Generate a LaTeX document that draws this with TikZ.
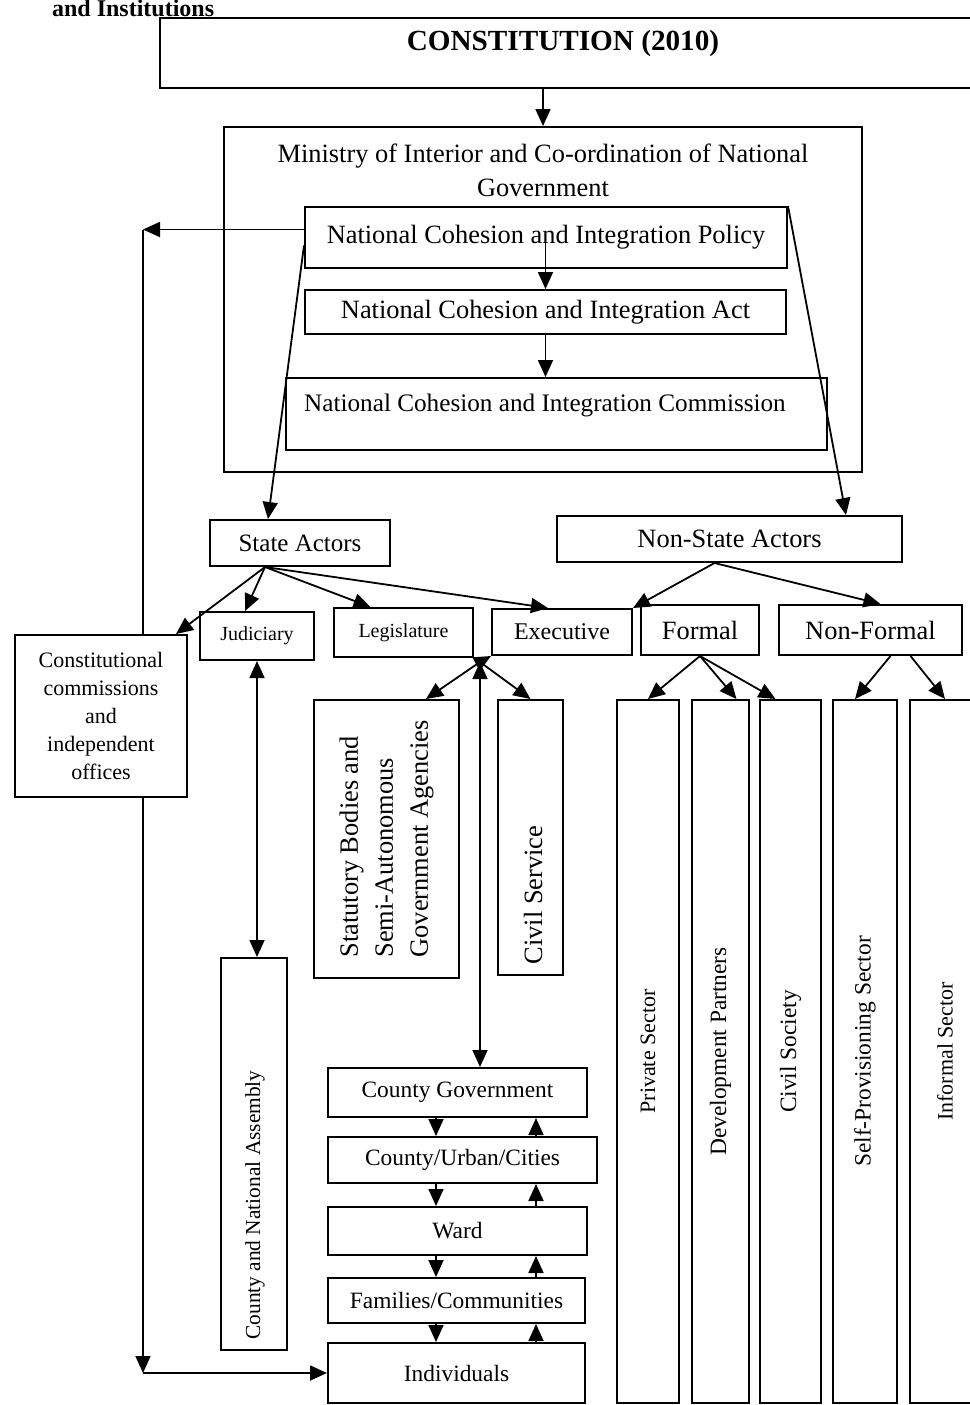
\documentclass[tikz,border=0pt]{standalone}
\usepackage{fontspec}
\setmainfont{Liberation Serif}
\usetikzlibrary{arrows.meta,calc,backgrounds}

\tikzset{
    box/.style={draw, line width=1pt, inner sep=0pt},
    arr/.style={-{Triangle[length=8.5pt,width=7.5pt]}, line width=0.9pt},
    darr/.style={{Triangle[length=8.5pt,width=7.5pt]}-{Triangle[length=8.5pt,width=7.5pt]}, line width=0.9pt},
    big/.style={font=\fontsize{13.2}{17}\selectfont},
    mid/.style={font=\fontsize{11.7}{14}\selectfont},
    small/.style={font=\fontsize{10}{12}\selectfont},
}

\begin{document}
\begin{tikzpicture}[x=0.5pt,y=-0.5pt]
            \useasboundingbox (0,0) rectangle (970,1405);

            \node[font=\bfseries\fontsize{12}{14}\selectfont, anchor=base west] (heading) at (45,16) {and Institutions};

            % top of the chart
            \node[box, minimum width=412.5pt, minimum height=35pt] (constitution) at (572.5,53) {};
            \node[font=\bfseries\fontsize{14.6}{17}\selectfont] (constitutiontext) at (563,43) {CONSTITUTION (2010)};

            \node[box, minimum width=319pt, minimum height=172.5pt] (ministry) at (543,299.5) {};
            \node[big, align=center] (ministrytext) at (543,170)
                {Ministry of Interior and Co-ordination of National\\Government};
            \node[box, big, minimum width=241pt, minimum height=30.5pt] (policy) at (546,237.5)
                {National Cohesion and Integration Policy};
            \node[box, big, minimum width=240.5pt, minimum height=22pt] (act) at (545.5,312)
                {National Cohesion and Integration Act};
            \node[box, minimum width=270.5pt, minimum height=36pt] (commission) at (556.5,414) {};
            \node[font=\fontsize{12.6}{15}\selectfont] (commissiontext) at (545,405) {National Cohesion and Integration Commission};

            % actors
            \node[box, font=\fontsize{12.5}{15}\selectfont, minimum width=90pt, minimum height=23pt] (state) at (300,543) {State Actors};
            \node[box, big, minimum width=172.5pt, minimum height=23pt] (nonstate) at (729.5,539) {Non-State Actors};

            \node[box, fill=white, align=center, font=\fontsize{11}{14}\selectfont,
                minimum width=86pt, minimum height=81pt] (commissions) at (101,716)
                {Constitutional\\commissions\\and\\independent\\offices};
            \node[box, small, minimum width=57pt, minimum height=24pt] (judiciary) at (257,636) {Judiciary};
            \node[box, small, minimum width=69.5pt, minimum height=24.5pt] (legislature) at (403.5,632.5) {Legislature};
            \node[box, font=\fontsize{12}{14}\selectfont, minimum width=70pt, minimum height=23pt] (executive) at (562,632) {Executive};
            \node[box, big, minimum width=59pt, minimum height=25pt] (formal) at (700,630) {Formal};
            \node[box, big, minimum width=91.5pt, minimum height=25pt] (nonformal) at (870.5,630) {Non-Formal};

            % executive side
            \node[box, rotate=90, align=left, minimum width=139pt, minimum height=72.5pt,
                font=\fontsize{13.2}{17.5}\selectfont] (statutory) at (386.5,839)
                {Statutory Bodies and\\Semi-Autonomous\\Government Agencies};
            \node[box, minimum width=32.5pt, minimum height=137.5pt] (civil) at (530.5,837.5) {};
            \node[big, rotate=90] (civiltext) at (533,895) {Civil Service};

            \node[box, minimum width=33pt, minimum height=196pt] (assembly) at (254,1154) {};
            \node[font=\fontsize{10.7}{13}\selectfont, rotate=90] (assemblytext) at (255,1205) {County and National Assembly};

            \node[box, mid, minimum width=129.5pt, minimum height=24.5pt] (countygov) at (457.5,1092.5) {County Government};
            \node[box, mid, minimum width=134.5pt, minimum height=23pt] (urban) at (462.5,1160) {County/Urban/Cities};
            \node[box, mid, minimum width=129.5pt, minimum height=24pt] (ward) at (457.5,1231) {Ward};
            \node[box, mid, minimum width=128.5pt, minimum height=22.5pt] (families) at (456.5,1300.5) {Families/Communities};
            \node[box, mid, minimum width=128.5pt, minimum height=30pt] (individuals) at (456.5,1373) {Individuals};

            % non-state side
            \node[box, font=\fontsize{11}{13}\selectfont, rotate=90, minimum width=351.5pt, minimum height=31pt] (private) at (648,1051.5) {Private Sector};
            \node[box, mid, rotate=90, minimum width=351.5pt, minimum height=28.5pt] (devpart) at (720.5,1051.5) {Development Partners};
            \node[box, mid, rotate=90, minimum width=351.5pt, minimum height=30.5pt] (civsoc) at (790.5,1051.5) {Civil Society};
            \node[box, mid, rotate=90, minimum width=351.5pt, minimum height=32pt] (selfprov) at (865,1051.5) {Self-Provisioning Sector};
            \node[box, font=\fontsize{11}{13}\selectfont, rotate=90, minimum width=351.5pt, minimum height=35pt] (informal) at (945,1051.5) {Informal Sector};

            % connectors
            \draw[arr] (constitution.south -| ministry.north) -- (ministry.north);
            \draw[arr] (policy.center -| act.north) -- (act.north);
            \draw[arr] (act.south) -- (act.south |- commission.north);

            \begin{scope}[on background layer]
                \coordinate (loopA) at (143,229.5);
                \coordinate (loopB) at (143,1373);
                \draw[arr] ($(policy.west)+(0,-8)$) -- (loopA);
                \draw[arr] (loopA) -- (loopB);
                \draw[arr] (loopB) -- (individuals.west);
            \end{scope}

            \draw[arr] ($(policy.west)+(0,8)$) -- ($(state.north)+(-32,0)$);
            \draw[arr] (policy.north east) -- ($(nonstate.north east)+(-57,0)$);

            \coordinate (stateroot) at ($(state.south)+(-35,0)$);
            \draw[arr] (stateroot) -- ($(commissions.north east)+(-12,0)$);
            \draw[arr] (stateroot) -- ($(judiciary.north)+(-12,0)$);
            \draw[arr] (stateroot) -- ($(legislature.north)+(-33,0)$);
            \draw[arr] (stateroot) -- ($(executive.north)+(-14,0)$);

            \coordinate (nonstateroot) at ($(nonstate.south)+(-15,0)$);
            \draw[arr] (nonstateroot) -- (executive.north east);
            \draw[arr] (nonstateroot) -- ($(nonformal.north)+(10,0)$);

            \coordinate (hub) at (480,662);
            \draw[arr] (hub) -- (executive.south west);
            \draw[arr] (hub) -- ($(statutory.south east)+(-34,0)$);
            \draw[arr] (hub) -- (civil.north);
            \draw[darr] (hub) -- (hub |- countygov.north);

            \draw[darr] (judiciary.south) -- (judiciary.south |- assembly.north);

            \draw[arr] (formal.south) -- (private.east);
            \draw[arr] (formal.south) -- ($(devpart.east)+(16,0)$);
            \draw[arr] (formal.south) -- ($(civsoc.east)+(-15,0)$);
            \draw[arr] ($(nonformal.south)+(20,0)$) -- ($(selfprov.east)+(-10,0)$);
            \draw[arr] ($(nonformal.south)+(40,0)$) -- (informal.east);

            \foreach \a/\b in {countygov/urban, urban/ward, ward/families, families/individuals} {
                \draw[arr] ($(\a.south west)+(109,0)$) -- ($(\b.north west)+(109,0)$);
                \draw[arr] ($(\b.north west)+(209,0)$) -- ($(\a.south west)+(209,0)$);
            }
\end{tikzpicture}
\end{document}
